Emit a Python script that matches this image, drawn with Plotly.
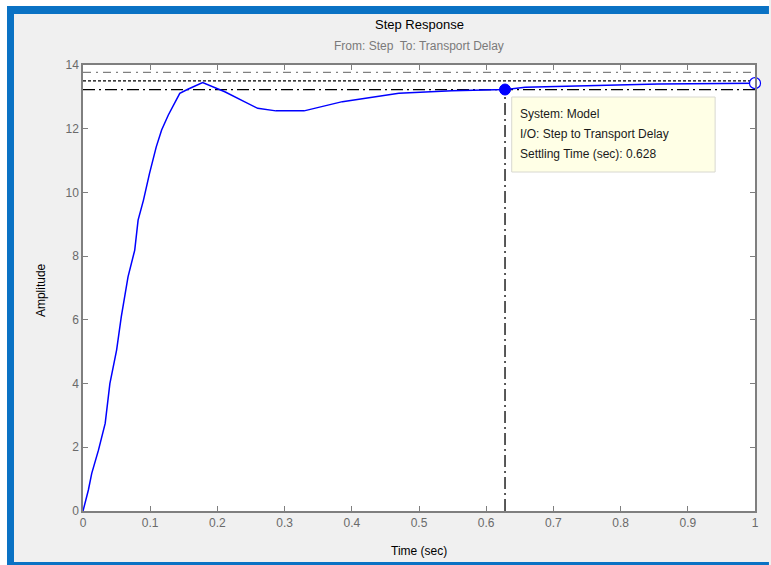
import plotly.graph_objects as go

# ---- data ----
time_s = [0, 0.008, 0.013, 0.023, 0.033, 0.040, 0.050, 0.057, 0.067, 0.077, 0.082, 0.090,
          0.099, 0.109, 0.117, 0.127, 0.144, 0.156, 0.178, 0.195, 0.211, 0.240, 0.260,
          0.287, 0.329, 0.386, 0.470, 0.549, 0.599, 0.628, 0.658, 0.772, 0.856, 1.0]
amplitude = [0, 0.66, 1.18, 1.91, 2.75, 4.0, 5.05, 6.1, 7.35, 8.19, 9.13, 9.76,
             10.6, 11.43, 11.96, 12.43, 13.11, 13.24, 13.45, 13.3, 13.16, 12.85, 12.64,
             12.56, 12.56, 12.85, 13.11, 13.19, 13.21, 13.23, 13.30, 13.37, 13.40, 13.43]
final_value = 13.5
upper_bound = 13.77
lower_bound = 13.23
settling_time = 0.628
x_range = [0, 1]
y_range = [0, 14]
x_ticks = [0, 0.1, 0.2, 0.3, 0.4, 0.5, 0.6, 0.7, 0.8, 0.9, 1]
x_ticktext = ["0", "0.1", "0.2", "0.3", "0.4", "0.5", "0.6", "0.7", "0.8", "0.9", "1"]
y_ticks = [0, 2, 4, 6, 8, 10, 12, 14]
tooltip_lines = ["System: Model", "I/O: Step to Transport Delay", "Settling Time (sec): 0.628"]

W, H = 771, 565
L, R, T, B = 83, 14, 65, 54
PW, PH = W - L - R, H - T - B

def px_x(px):
    return (px - L) / PW

def px_y(py):
    return (H - B - py) / PH

FONT = "Liberation Sans, Arial, sans-serif"
BLUE = "#0a72c4"

fig = go.Figure()

fig.add_trace(go.Scatter(x=x_range, y=[upper_bound] * 2, mode="lines",
                         line=dict(color="#808080", width=1.2, dash="8px,5px,2px,5px"),
                         hoverinfo="skip", showlegend=False))
fig.add_trace(go.Scatter(x=x_range, y=[final_value] * 2, mode="lines",
                         line=dict(color="black", width=1.3, dash="3px,2px"),
                         hoverinfo="skip", showlegend=False))
fig.add_trace(go.Scatter(x=x_range, y=[lower_bound] * 2, mode="lines",
                         line=dict(color="black", width=1.3, dash="12px,4px,2px,4px"),
                         hoverinfo="skip", showlegend=False))
fig.add_trace(go.Scatter(x=[settling_time, settling_time], y=[0, lower_bound], mode="lines",
                         line=dict(color="black", width=1.3, dash="12px,4px,2px,4px"),
                         hoverinfo="skip", showlegend=False))

fig.add_trace(go.Scatter(x=time_s, y=amplitude, mode="lines",
                         line=dict(color="#0000ff", width=1.5),
                         showlegend=False))

fig.add_trace(go.Scatter(x=[settling_time], y=[lower_bound], mode="markers",
                         marker=dict(color="#0000ff", size=11, line=dict(color="#0000ff", width=1)),
                         cliponaxis=False, showlegend=False))
fig.add_trace(go.Scatter(x=[time_s[-1]], y=[amplitude[-1]], mode="markers",
                         marker=dict(color="white", size=11, line=dict(color="#0000ff", width=1.2)),
                         cliponaxis=False, showlegend=False))

shapes = [
    dict(type="rect", xref="paper", yref="paper", x0=px_x(0), x1=px_x(W), y0=px_y(6), y1=px_y(0),
         fillcolor="white", line=dict(width=0), layer="below"),
    dict(type="rect", xref="paper", yref="paper", x0=px_x(7), x1=px_x(W), y0=px_y(14), y1=px_y(6),
         fillcolor=BLUE, line=dict(width=0), layer="below"),
    dict(type="rect", xref="paper", yref="paper", x0=px_x(7), x1=px_x(W), y0=px_y(H), y1=px_y(562),
         fillcolor=BLUE, line=dict(width=0), layer="below"),
    dict(type="rect", xref="paper", yref="paper", x0=px_x(513), x1=px_x(717), y0=px_y(172), y1=px_y(97),
         fillcolor="#ffffe6", line=dict(color="#d8d8d0", width=1)),
]

annotations = [
    # white outer left margin and blue left frame edge
    dict(text=" ", xref="paper", yref="paper", x=px_x(0), y=px_y(0), xanchor="left", yanchor="top",
         width=7, height=H, bgcolor="white", borderpad=0, borderwidth=0, showarrow=False),
    dict(text=" ", xref="paper", yref="paper", x=px_x(7), y=px_y(6), xanchor="left", yanchor="top",
         width=6.5, height=H - 6, bgcolor=BLUE, borderpad=0, borderwidth=0, showarrow=False),
    dict(text="Step Response", xref="paper", yref="paper", x=0.5, y=px_y(25),
         showarrow=False, font=dict(family=FONT, size=13, color="black"), yanchor="middle"),
    dict(text="From: Step  To: Transport Delay", xref="paper", yref="paper", x=0.5, y=px_y(46),
         showarrow=False, font=dict(family=FONT, size=12, color="#7a7a7a"), yanchor="middle"),
    dict(text="Time (sec)", xref="paper", yref="paper", x=0.5, y=px_y(551),
         showarrow=False, font=dict(family=FONT, size=12, color="black"), yanchor="middle"),
    dict(text="Amplitude", xref="paper", yref="paper", x=px_x(41), y=px_y(290), textangle=-90,
         showarrow=False, font=dict(family=FONT, size=12, color="black"),
         xanchor="center", yanchor="middle"),
]
for line, py in zip(tooltip_lines, [114, 134, 154]):
    annotations.append(dict(text=line, xref="paper", yref="paper", x=px_x(519), y=px_y(py),
                            xanchor="left", yanchor="middle", showarrow=False,
                            font=dict(family=FONT, size=12, color="#1a1a1a")))

axis_common = dict(showgrid=False, zeroline=False, showline=True, linecolor="#7f7f7f",
                   linewidth=1.5, mirror="ticks", ticks="inside", ticklen=5,
                   tickcolor="#7f7f7f", tickwidth=1.3,
                   tickfont=dict(family=FONT, size=12, color="#6a6a6a"))

fig.update_layout(
    width=W, height=H,
    margin=dict(l=L, r=R, t=T, b=B),
    paper_bgcolor="#f0f0f0",
    plot_bgcolor="white",
    xaxis=dict(range=x_range, tickvals=x_ticks, ticktext=x_ticktext, **axis_common),
    yaxis=dict(range=y_range, tickvals=y_ticks, **axis_common),
    shapes=shapes,
    annotations=annotations,
    showlegend=False,
)

fig.write_html("out.html")
